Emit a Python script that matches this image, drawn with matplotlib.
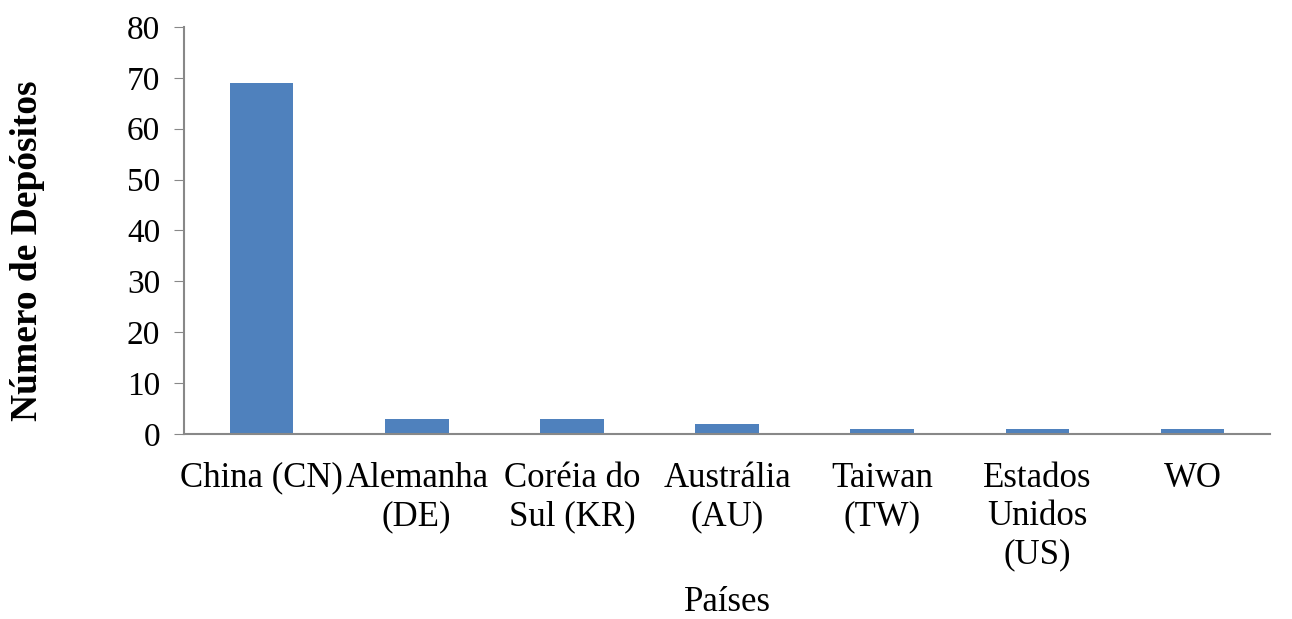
import matplotlib.pyplot as plt

plt.rcParams["font.family"] = ["Liberation Serif", "DejaVu Serif"]

paises = ["China (CN)", "Alemanha\n(DE)", "Coréia do\nSul (KR)", "Austrália\n(AU)",
          "Taiwan\n(TW)", "Estados\nUnidos\n(US)", "WO"]
depositos = [69, 3, 3, 2, 1, 1, 1]

fig = plt.figure(figsize=(12.92, 6.19), dpi=100)
ax = fig.add_axes([0.1424, 0.2989, 0.8406, 0.6575])

x = list(range(len(paises)))
ax.bar(x, depositos, width=0.41, color="#4F81BD")

ax.set_xlim(-0.5, len(paises) - 0.5)
ax.set_ylim(0, 80)
ax.set_yticks(range(0, 81, 10))
ax.set_xticks(x)
ax.set_xticklabels(paises, linespacing=1.22)

ax.tick_params(axis="y", labelsize=24, length=7, color="#888888", pad=10)
ax.tick_params(axis="x", labelsize=25, length=0, pad=20)

for s in ["top", "right"]:
    ax.spines[s].set_visible(False)
for s in ["left", "bottom"]:
    ax.spines[s].set_color("#888888")
    ax.spines[s].set_linewidth(1.5)

ax.set_ylabel("Número de Depósitos", fontsize=27, fontweight="bold")
ax.yaxis.set_label_coords(-0.128, 0.45)
ax.set_xlabel("Países", fontsize=25, labelpad=10)

plt.savefig("out.png")
